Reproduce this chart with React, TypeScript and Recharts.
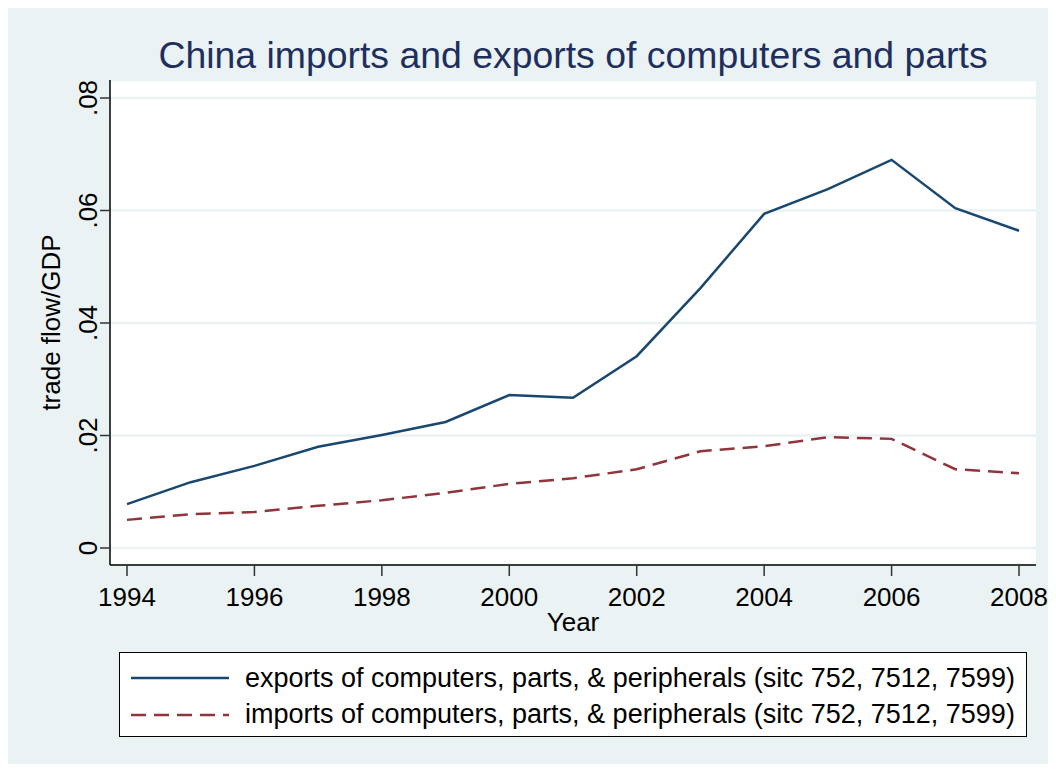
import React from "react";
import { LineChart, Line, XAxis, YAxis, CartesianGrid } from "recharts";

const years = [1994, 1995, 1996, 1997, 1998, 1999, 2000, 2001, 2002, 2003, 2004, 2005, 2006, 2007, 2008];
const exportsShare = [0.0078, 0.0117, 0.0146, 0.018, 0.0201, 0.0224, 0.0272, 0.0267, 0.0341, 0.0462, 0.0594, 0.0638, 0.069, 0.0604, 0.0564];
const importsShare = [0.005, 0.006, 0.0064, 0.0075, 0.0085, 0.0098, 0.0114, 0.0124, 0.014, 0.0172, 0.0181, 0.0197, 0.0194, 0.014, 0.0133];
const xTicks = [1994, 1996, 1998, 2000, 2002, 2004, 2006, 2008];
const yTicks = [0, 0.02, 0.04, 0.06, 0.08];
const yTickLabels = ["0", ".02", ".04", ".06", ".08"];

const series = [
  {
    key: "exports",
    name: "exports of computers, parts, & peripherals (sitc 752, 7512, 7599)",
    color: "#1a476f",
    dash: undefined as string | undefined,
  },
  {
    key: "imports",
    name: "imports of computers, parts, & peripherals (sitc 752, 7512, 7599)",
    color: "#90353b",
    dash: "15 8",
  },
];

const data = years.map((year, i) => ({
  year,
  exports: exportsShare[i],
  imports: importsShare[i],
}));

const FONT = "'Liberation Sans', Arial, Helvetica, sans-serif";
const BG = "#eaf2f3";

function YTick({ x, y, payload }: any) {
  const idx = yTicks.indexOf(payload.value);
  const label = idx >= 0 ? yTickLabels[idx] : String(payload.value);
  const bx = x - 1;
  return (
    <text
      x={bx}
      y={y}
      transform={`rotate(-90, ${bx}, ${y})`}
      textAnchor="middle"
      fontSize={26}
      fontFamily={FONT}
      fill="#000"
    >
      {label}
    </text>
  );
}

function XTick({ x, y, payload }: any) {
  return (
    <text x={x} y={y + 28} textAnchor="middle" fontSize={26} fontFamily={FONT} fill="#000">
      {payload.value}
    </text>
  );
}

function YLabel({ viewBox }: any) {
  const cx = 60;
  const cy = viewBox.y + viewBox.height / 2;
  return (
    <text
      x={cx}
      y={cy}
      transform={`rotate(-90, ${cx}, ${cy})`}
      textAnchor="middle"
      fontSize={26}
      fontFamily={FONT}
      fill="#000"
    >
      trade flow/GDP
    </text>
  );
}

function XLabel({ viewBox }: any) {
  return (
    <text
      x={viewBox.x + viewBox.width / 2}
      y={631}
      textAnchor="middle"
      fontSize={26}
      fontFamily={FONT}
      fill="#000"
    >
      Year
    </text>
  );
}

export default function App() {
  return (
    <div
      style={{
        position: "relative",
        width: 1056,
        height: 770,
        margin: "-8px 0 0 -8px",
        background: "#fff",
        fontFamily: FONT,
        overflow: "hidden",
      }}
    >
      <div style={{ position: "absolute", left: 7, top: 6, width: 1042, height: 758, background: BG }} />
      <svg style={{ position: "absolute", left: 0, top: 0 }} width={1056} height={80}>
        <text x={573} y={68} textAnchor="middle" fontSize={37.4} fontFamily={FONT} fill="#1e2f5e">
          China imports and exports of computers and parts
        </text>
      </svg>
      <div style={{ position: "absolute", left: 0, top: 0 }}>
        <LineChart width={1056} height={770} data={data} margin={{ top: 80, right: 20, left: 40, bottom: 145 }}>
          <CartesianGrid vertical={false} stroke={BG} strokeWidth={2.5} fill="#fff" fillOpacity={1} />
          <XAxis
            dataKey="year"
            type="number"
            domain={[1994, 2008]}
            ticks={xTicks}
            padding={{ left: 17, right: 17 }}
            height={60}
            tickSize={11}
            tick={<XTick />}
            axisLine={{ stroke: "#000", strokeWidth: 1.5 }}
            tickLine={{ stroke: "#333", strokeWidth: 1.5 }}
            label={<XLabel />}
          />
          <YAxis
            type="number"
            domain={[0, 0.08]}
            ticks={yTicks}
            padding={{ top: 18, bottom: 17 }}
            width={70}
            tickSize={10}
            tick={<YTick />}
            axisLine={{ stroke: "#000", strokeWidth: 1.5 }}
            tickLine={{ stroke: "#333", strokeWidth: 1.5 }}
            label={<YLabel />}
          />
          {series.map((s) => (
            <Line
              key={s.key}
              dataKey={s.key}
              name={s.name}
              type="linear"
              stroke={s.color}
              strokeWidth={2.5}
              strokeDasharray={s.dash}
              dot={false}
              activeDot={false}
              isAnimationActive={false}
            />
          ))}
        </LineChart>
      </div>
      <div
        style={{
          position: "absolute",
          left: 119,
          top: 652,
          width: 908,
          height: 85,
          background: "#fff",
          border: "1.5px solid #000",
          boxSizing: "border-box",
        }}
      >
        <svg width={906} height={83}>
          {series.map((s, i) => (
            <g key={s.key}>
              <line
                x1={11}
                x2={109}
                y1={25 + i * 37}
                y2={25 + i * 37}
                stroke={s.color}
                strokeWidth={2.5}
                strokeDasharray={s.dash}
              />
              <text x={125} y={34 + i * 36} fontSize={27} fontFamily={FONT} fill="#000">
                {s.name}
              </text>
            </g>
          ))}
        </svg>
      </div>
    </div>
  );
}
